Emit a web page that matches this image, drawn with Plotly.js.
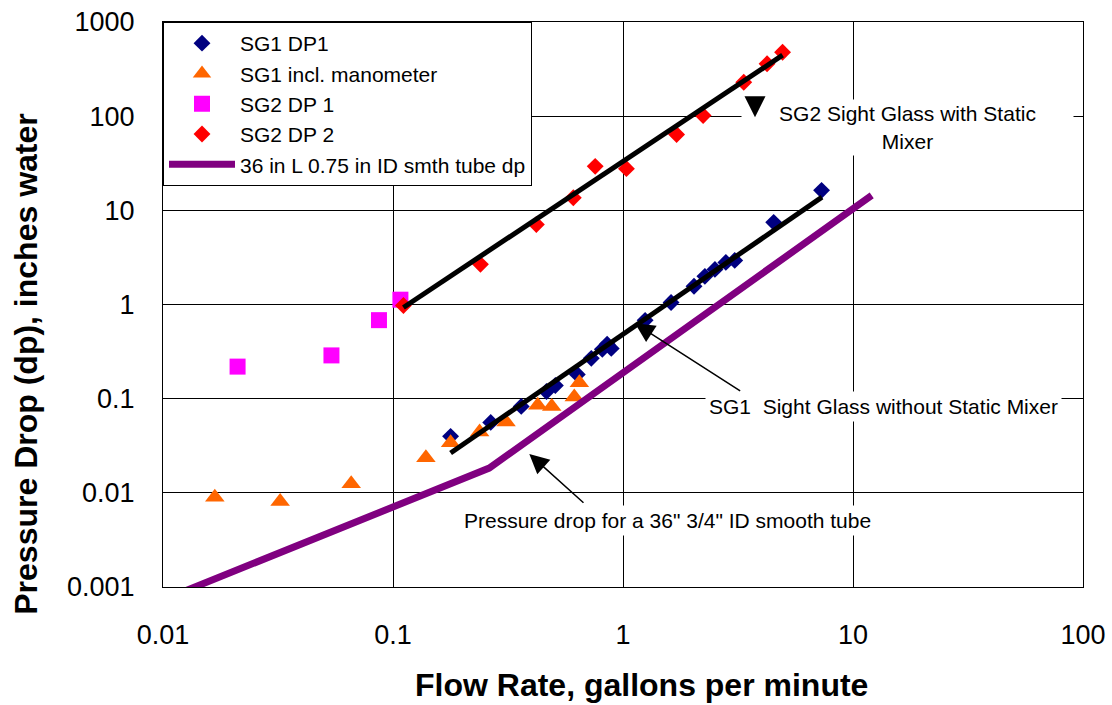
<!DOCTYPE html>
<html>
<head>
<meta charset="utf-8">
<script src="https://cdn.plot.ly/plotly-3.0.1.min.js"></script>
<style>html,body{margin:0;padding:0;background:#fff}#chart{width:1112px;height:705px}</style>
</head>
<body>
<div id="chart"></div>
<script>
// ---- data ----
const sg1dp1_x = [0.178,0.266,0.361,0.465,0.508,0.633,0.728,0.813,0.853,0.889,1.248,1.618,2.036,2.27,2.51,2.80,3.06,4.52,7.30];
const sg1dp1_y = [0.0398,0.056,0.0828,0.119,0.138,0.181,0.268,0.334,0.378,0.342,0.679,1.05,1.56,1.99,2.36,2.80,2.94,7.45,16.3];

const sg1man_x = [0.0168,0.0323,0.0658,0.139,0.178,0.238,0.310,0.426,0.490,0.614,0.646];
const sg1man_y = [0.0090,0.0081,0.0125,0.0236,0.0341,0.0442,0.0565,0.0849,0.0828,0.104,0.148];

const sg2dp1_x = [0.0211,0.054,0.0869,0.1077];
const sg2dp1_y = [0.219,0.288,0.682,1.125];

const sg2dp2_x = [0.111,0.240,0.420,0.608,0.757,1.035,1.71,2.23,3.35,4.23,4.94];
const sg2dp2_y = [0.977,2.67,7.08,13.6,29.3,27.7,63.8,101.6,229.6,360,478];

const tube_x = [0.01,0.262,12.06];
const tube_y = [0.00073,0.0183,14.4];

const sg1fit_x = [0.178,7.33];
const sg1fit_y = [0.0265,13.8];
const sg2fit_x = [0.111,4.94];
const sg2fit_y = [0.93,444];

const xTicks = [0.01,0.1,1,10,100];
const xTickText = ["0.01","0.1","1","10","100"];
const yTicks = [0.001,0.01,0.1,1,10,100,1000];
const yTickText = ["0.001","0.01","0.1","1","10","100","1000"];

const names = ["SG1 DP1","SG1 incl. manometer","SG2 DP 1","SG2 DP 2","36 in L 0.75 in ID smth tube dp"];

// ---- traces ----
const FONT = "Liberation Sans, Arial, sans-serif";
const traces = [
  {x: sg1dp1_x, y: sg1dp1_y, name: names[0], mode: "markers", type: "scatter",
   marker: {symbol: "diamond", size: 13, color: "#000080"}},
  {x: sg1man_x, y: sg1man_y, name: names[1], mode: "markers", type: "scatter",
   marker: {symbol: "triangle-up", size: 17, color: "#FF6600"}},
  {x: sg2dp1_x, y: sg2dp1_y, name: names[2], mode: "markers", type: "scatter",
   marker: {symbol: "square", size: 16, color: "#FF00FF"}},
  {x: sg2dp2_x, y: sg2dp2_y, name: names[3], mode: "markers", type: "scatter",
   marker: {symbol: "diamond", size: 13, color: "#FF0000"}},
  {x: tube_x, y: tube_y, name: names[4], mode: "lines", type: "scatter",
   line: {color: "#800080", width: 7}},
  {x: sg1fit_x, y: sg1fit_y, mode: "lines", type: "scatter", showlegend: false, hoverinfo: "skip",
   line: {color: "#000000", width: 5}},
  {x: sg2fit_x, y: sg2fit_y, mode: "lines", type: "scatter", showlegend: false, hoverinfo: "skip",
   line: {color: "#000000", width: 5}}
];

const annFont = {family: FONT, size: 21, color: "#000"};
const layout = {
  width: 1112, height: 705,
  margin: {l: 163, r: 29, t: 22, b: 118},
  paper_bgcolor: "#fff", plot_bgcolor: "#fff",
  font: {family: FONT, color: "#000"},
  showlegend: true,
  legend: {x: 0, y: 1, xanchor: "left", yanchor: "top", bgcolor: "#fff",
           bordercolor: "#000", borderwidth: 1, font: {family: FONT, size: 21, color: "#000"},
           itemwidth: 66, tracegroupgap: 0, entrywidth: 300, entrywidthmode: "pixels"},
  xaxis: {type: "log", range: [-2, 2], tickmode: "array", tickvals: xTicks, ticktext: xTickText,
          showgrid: true, gridcolor: "#000", gridwidth: 1, showline: true, linecolor: "#000",
          linewidth: 1, mirror: true, ticks: "", zeroline: false, ticklabelstandoff: 24,
          tickfont: {family: FONT, size: 27, color: "#000"}},
  yaxis: {type: "log", range: [-3, 3], tickmode: "array", tickvals: yTicks, ticktext: yTickText,
          showgrid: true, gridcolor: "#000", gridwidth: 1, showline: true, linecolor: "#000",
          linewidth: 1, mirror: true, ticks: "", zeroline: false, ticklabelstandoff: 22,
          tickfont: {family: FONT, size: 27, color: "#000"}},
  annotations: [
    {text: "Flow Rate, gallons per minute", xref: "paper", yref: "paper", x: 0.520, y: -0.1735,
     xanchor: "center", yanchor: "middle", showarrow: false,
     font: {family: FONT, size: 32, color: "#000", weight: "bold"}},
    {text: "Pressure Drop (dp), inches water", xref: "paper", yref: "paper", x: -0.149, y: 0.395,
     xanchor: "center", yanchor: "middle", showarrow: false, textangle: -90,
     font: {family: FONT, size: 32, color: "#000", weight: "bold"}},
    {text: "SG2 Sight Glass with Static<br>Mixer", xref: "x", yref: "y", x: 1.237, y: 1.877,
     xanchor: "center", yanchor: "middle", showarrow: false, bgcolor: "#fff", borderpad: 0,
     width: 331, height: 55, align: "center", font: annFont},
    {text: "SG1\u00a0 Sight Glass without Static Mixer", xref: "x", yref: "y", x: 0.357, y: -1.078,
     xanchor: "left", yanchor: "middle", showarrow: false, bgcolor: "#fff", borderpad: 3, font: annFont},
    {text: "Pressure drop for a 36\" 3/4\" ID smooth tube", xref: "x", yref: "y", x: 0.193, y: -2.289,
     xanchor: "center", yanchor: "middle", showarrow: false, bgcolor: "#fff", borderpad: 3, font: annFont},
    {text: "", xref: "x", yref: "y", x: 0.574, y: 1.988, showarrow: true, ax: 0, ay: -14,
     arrowhead: 2, arrowwidth: 1.5, arrowsize: 2.8, arrowcolor: "#000"},
    {text: "", xref: "x", yref: "y", x: 0.052, y: -0.200, showarrow: true, ax: 106.7, ay: 68.4,
     arrowhead: 2, arrowwidth: 1.5, arrowsize: 2.6, arrowcolor: "#000"},
    {text: "", xref: "x", yref: "y", x: -0.4074, y: -1.588, showarrow: true, ax: 55.7, ay: 50,
     arrowhead: 2, arrowwidth: 1.5, arrowsize: 2.6, arrowcolor: "#000"}
  ]
};

Plotly.newPlot("chart", traces, layout, {displayModeBar: false, staticPlot: true});
</script>
</body>
</html>
